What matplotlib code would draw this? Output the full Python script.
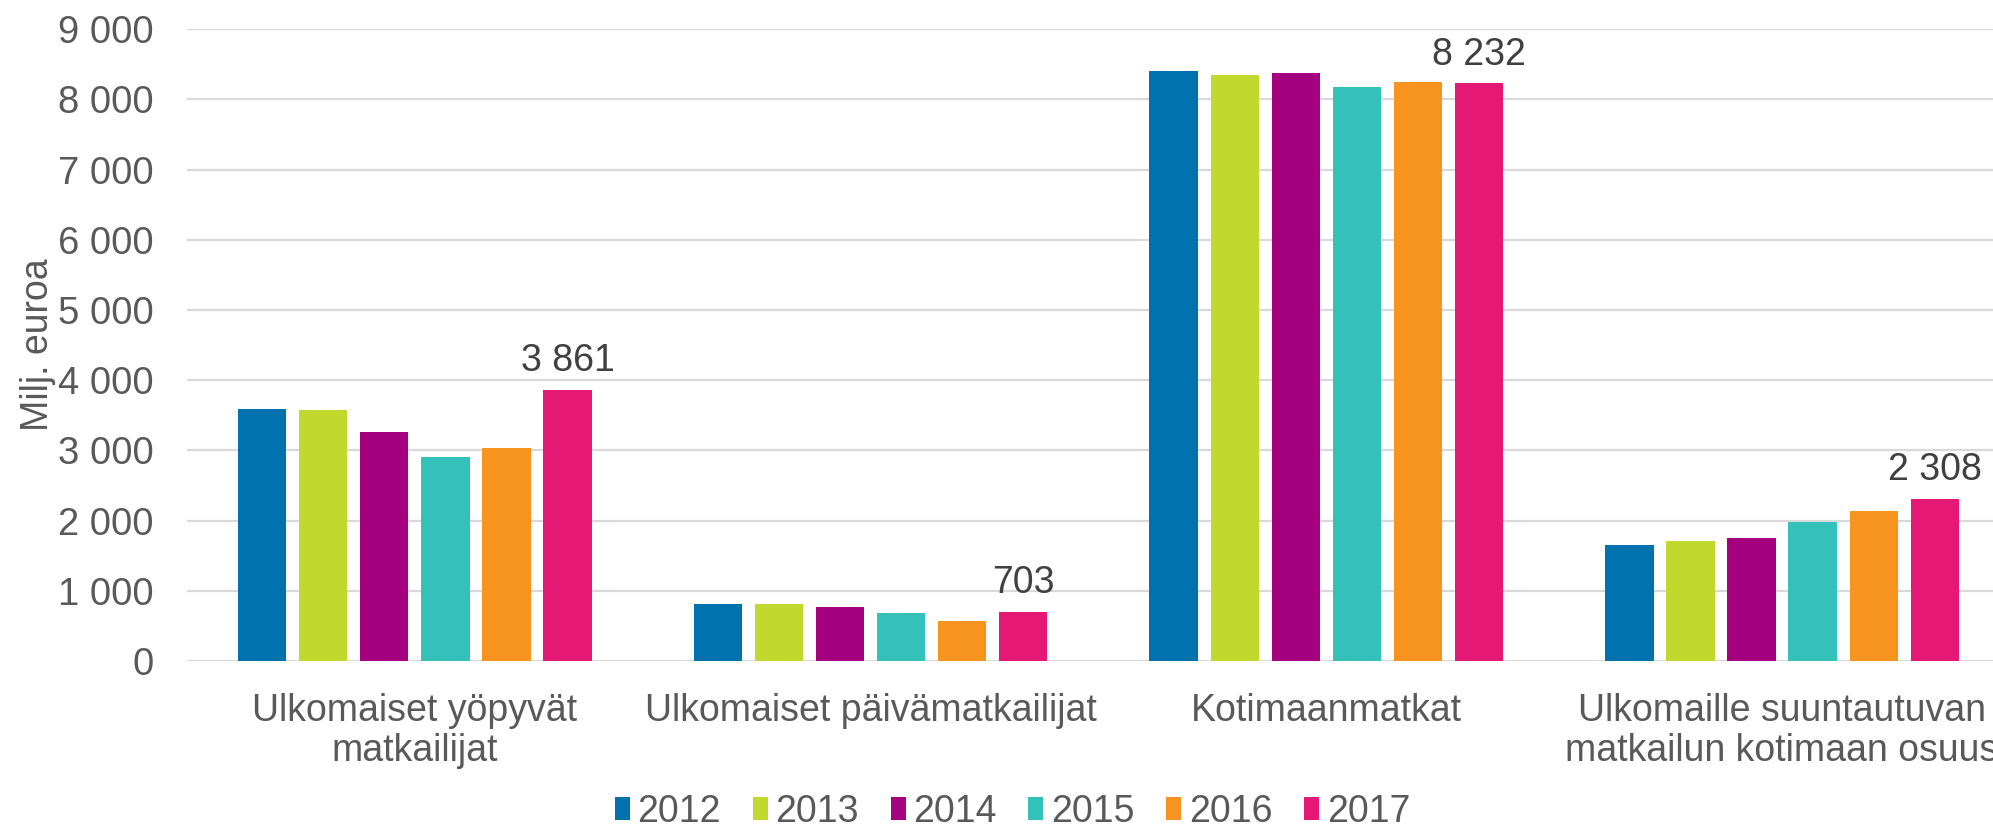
import numpy as np
import matplotlib
matplotlib.use("Agg")
import matplotlib.pyplot as plt
from matplotlib.ticker import FuncFormatter

# data (milj. euroa)
categories = ["Ulkomaiset yöpyvät\nmatkailijat", "Ulkomaiset päivämatkailijat",
              "Kotimaanmatkat", "Ulkomaille suuntautuvan\nmatkailun kotimaan osuus"]
years = ["2012", "2013", "2014", "2015", "2016", "2017"]
v2012 = [3594, 808, 8398, 1656]
v2013 = [3571, 812, 8346, 1713]
v2014 = [3266, 769, 8370, 1750]
v2015 = [2906, 688, 8180, 1978]
v2016 = [3030, 570, 8242, 2134]
v2017 = [3861, 703, 8232, 2308]
colors = ["#0072AE", "#C1D82F", "#A4007F", "#34C1B9", "#F7931F", "#E51876"]

series = [v2012, v2013, v2014, v2015, v2016, v2017]

plt.rcParams["font.family"] = ["Liberation Sans", "DejaVu Sans"]
txt = "#595959"
fs = 27

fig = plt.figure(figsize=(19.93, 8.30), dpi=100)
ax = fig.add_axes([0.0938, 0.2036, 0.9147, 0.7612])

x = np.arange(len(categories))
step = 0.134
width = 0.106
for i, (yr, vals) in enumerate(zip(years, series)):
    pos = x + (i - 2.5) * step
    ax.bar(pos, vals, width, color=colors[i], label=yr, zorder=3)
    if yr == "2017":
        for p, v in zip(pos, vals):
            ax.text(p, v + 150, f"{v:,}".replace(",", " "), ha="center", va="bottom",
                    fontsize=fs, color="#404040")

ax.set_xlim(-0.5, len(categories) - 0.5)
ax.set_ylim(0, 9000)
ax.set_yticks(range(0, 9001, 1000))
ax.yaxis.set_major_formatter(FuncFormatter(lambda v, _: f"{int(v):,}".replace(",", " ")))
ax.set_xticks(x)
ax.set_xticklabels(categories, linespacing=1.15)
ax.tick_params(axis="both", length=0, labelsize=fs, labelcolor=txt)
ax.tick_params(axis="y", pad=24, labelsize=27.5)
ax.tick_params(axis="x", pad=23)
ax.grid(axis="y", color="#d9d9d9", linewidth=1.6, zorder=0)
for s in ax.spines.values():
    s.set_visible(False)
ax.set_ylabel("Milj. euroa", fontsize=fs, color=txt, labelpad=1)

fig.legend(loc="center", bbox_to_anchor=(0.508, 1 - 812 / 830),
           ncol=6, frameon=False, fontsize=fs, labelcolor=txt,
           handlelength=0.4, handleheight=0.55, handletextpad=0.2, columnspacing=0.85)

fig.savefig("out.png", dpi=100)
